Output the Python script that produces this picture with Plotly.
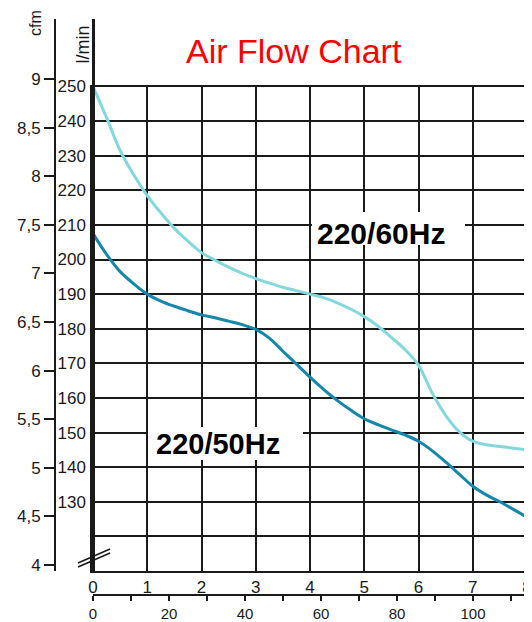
import plotly.graph_objects as go

# ---------------- data ----------------
pressure = [0, 0.25, 0.5, 0.75, 1, 1.25, 1.5, 1.75, 2, 2.25, 2.5, 2.75, 3, 3.25, 3.5, 3.75,
            4, 4.25, 4.5, 4.75, 5, 5.25, 5.5, 5.75, 6, 6.25, 6.5, 6.75, 7, 7.25, 7.5, 7.75, 8]
flow_60hz = [250, 241, 231.5, 224.5, 218.5, 213.5, 209, 205.3, 202, 199.8, 197.8, 196, 194.5, 193.2, 192, 191,
             190, 189, 187.5, 185.7, 183.5, 180.8, 177.5, 174, 169.5, 161.5, 155, 150.3, 147.5, 146.5, 146, 145.5, 145]
flow_50hz = [207.5, 201.5, 196.5, 193, 190, 188, 186.5, 185.2, 184, 183.2, 182.2, 181.2, 179.8, 177.3, 173.5, 169.8,
             166, 162.5, 159.3, 156.5, 154, 152.3, 150.8, 149.3, 147.5, 144.8, 141.5, 138, 134.5, 132, 130, 127.8, 125.5]

lmin_ticks = [120, 130, 140, 150, 160, 170, 180, 190, 200, 210, 220, 230, 240, 250]
lmin_labels = ["", "130", "140", "150", "160", "170", "180", "190", "200", "210", "220", "230", "240", "250"]
cfm_ticks = [4, 4.5, 5, 5.5, 6, 6.5, 7, 7.5, 8, 8.5, 9]
cfm_labels = ["4", "4,5", "5", "5,5", "6", "6,5", "7", "7,5", "8", "8,5", "9"]
x_ticks = [0, 1, 2, 3, 4, 5, 6, 7, 8]
x2_ticks = [0, 20, 40, 60, 80, 100]
series_names = ["220/60Hz", "220/50Hz"]
title_text = "Air Flow Chart"

# ---------------- layout helpers (screen pixels -> paper fractions) ----------------
OFF = 8                      # default page margin around the plot div
W, H = 532 - OFF, 622 - OFF
ML, MR, MT, MB = 0, 3, 10, 24
PW, PH = W - ML - MR, H - MT - MB


def px_x(p):
    return (p - OFF - ML) / PW


def px_y(p):
    return (H - MB - (p - OFF)) / PH


LIGHT = "#84d8dd"
DARK = "#1686ab"
INK = "#1a1a1a"
FONT = "Liberation Sans, Arial, sans-serif"

x_left = px_x(93)
x_right_px = W - MR + OFF
y_dom = [px_y(571), px_y(86.5)]
y_dom_tall = [px_y(571), px_y(19)]

fig = go.Figure()
fig.add_trace(go.Scatter(x=pressure, y=flow_60hz, mode="lines", name=series_names[0],
                         line=dict(color=LIGHT, width=3, shape="spline", smoothing=1.0),
                         xaxis="x", yaxis="y", showlegend=False))
fig.add_trace(go.Scatter(x=pressure, y=flow_50hz, mode="lines", name=series_names[1],
                         line=dict(color=DARK, width=3, shape="spline", smoothing=1.0),
                         xaxis="x", yaxis="y", showlegend=False))
# placeholders so the extra axes are drawn
fig.add_trace(go.Scatter(x=[None], y=[None], xaxis="x2", yaxis="y", showlegend=False, hoverinfo="skip"))
fig.add_trace(go.Scatter(x=[None], y=[None], xaxis="x3", yaxis="y2", showlegend=False, hoverinfo="skip"))
fig.add_trace(go.Scatter(x=[None], y=[None], xaxis="x3", yaxis="y3", showlegend=False, hoverinfo="skip"))

tickfont = dict(family=FONT, size=17, color=INK)

fig.update_layout(
    width=W, height=H,
    margin=dict(l=ML, r=MR, t=MT, b=MB, autoexpand=False),
    paper_bgcolor="white", plot_bgcolor="rgba(0,0,0,0)",
    template="none",
    showlegend=False,
    xaxis=dict(domain=[x_left, 1], range=[0, 8 * (x_right_px - 93) / (527 - 93)], anchor="y",
               tickvals=x_ticks, showgrid=True, gridcolor=INK, gridwidth=2,
               showline=True, linecolor=INK, linewidth=2, mirror=True,
               ticks="", tickfont=tickfont, zeroline=False, automargin=False),
    yaxis=dict(domain=y_dom, range=[110, 250], anchor="x",
               tickvals=lmin_ticks, ticktext=lmin_labels, showgrid=True, gridcolor=INK, gridwidth=2,
               showline=True, linecolor=INK, linewidth=2.5, ticks="", tickfont=tickfont,
               zeroline=False, automargin=False, ticklabelstandoff=1),
    xaxis2=dict(overlaying="x", anchor="free", position=px_y(595),
                range=[0, 100 * (x_right_px - 93) / (473 - 93)], tickvals=x2_ticks,
                ticks="outside", ticklen=5, tickwidth=1.5, tickcolor=INK,
                minor=dict(ticks="outside", dtick=10, ticklen=5, tickwidth=1.5, tickcolor=INK, showgrid=False),
                showline=True, linecolor=INK, linewidth=2, showgrid=False, zeroline=False,
                tickfont=dict(family=FONT, size=15, color=INK), automargin=False, ticklabelstandoff=0),
    xaxis3=dict(domain=[x_left, 1], anchor="y2", visible=False, range=[0, 1]),
    yaxis2=dict(domain=y_dom_tall, anchor="free", position=px_x(55), side="left",
                range=[4 - 6 / 97.2, 9 + (79 - 19) / 97.2],
                tickvals=cfm_ticks, ticktext=cfm_labels, ticks="outside", ticklen=10,
                tickwidth=1.5, tickcolor=INK, showline=True, linecolor=INK, linewidth=2,
                showgrid=False, zeroline=False, tickfont=tickfont, automargin=False),
    yaxis3=dict(overlaying="y2", anchor="free", position=x_left, side="left",
                range=[0, 1], showline=True, linecolor=INK, linewidth=2.5,
                showticklabels=False, ticks="", showgrid=False, zeroline=False, automargin=False),
)

common = dict(xref="paper", yref="paper", showarrow=False, xanchor="center", yanchor="middle")
annos = [
    dict(text=title_text, x=px_x(293.5), y=px_y(51), font=dict(family=FONT, size=34, color="#ff0000"), **common),
    dict(text="cfm", x=px_x(36), y=px_y(23), textangle=-90,
         font=dict(family=FONT, size=16, color=INK), **common),
    dict(text="l/min", x=px_x(82.5), y=px_y(45), textangle=-90,
         font=dict(family=FONT, size=18, color=INK), **common),
    dict(text="<b>" + series_names[0] + "</b>", x=px_x(380.5), y=px_y(234),
         font=dict(family=FONT, size=30, color="black"), **common),
    dict(text="<b>" + series_names[1] + "</b>", x=px_x(217.5), y=px_y(443.5),
         font=dict(family=FONT, size=29, color="black"), **common),
]
fig.update_layout(annotations=annos)

# white boxes behind the series labels
for (x0, y0, x1, y1) in [(312, 212, 465, 245), (148, 427, 303, 460)]:
    fig.add_shape(type="rect", xref="paper", yref="paper", layer="above",
                  x0=px_x(x0), x1=px_x(x1), y0=px_y(y1), y1=px_y(y0),
                  fillcolor="white", line=dict(width=0))

# axis-break mark
for dy in (0, 4):
    fig.add_shape(type="line", xref="paper", yref="paper",
                  x0=px_x(78), y0=px_y(563 + dy), x1=px_x(110), y1=px_y(549 + dy),
                  line=dict(color=INK, width=1.5))

fig.write_html("out.html")
